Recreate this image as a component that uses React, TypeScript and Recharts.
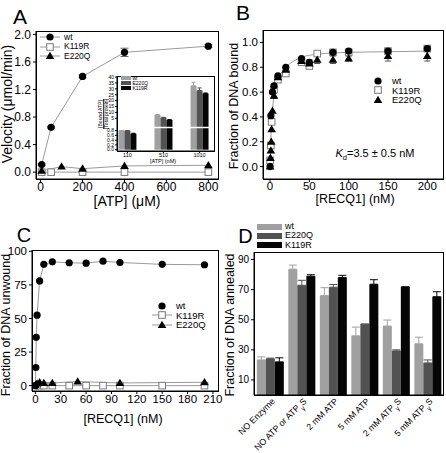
import React from 'react';
import {
  ComposedChart,
  BarChart,
  Bar,
  Line,
  Scatter,
  XAxis,
  YAxis,
  ErrorBar,
  ReferenceLine,
} from 'recharts';

const FONT = '"Liberation Sans", Arial, Helvetica, sans-serif';
const LINE_GRAY = '#9a9a9a';
const WT_BAR = '#a0a0a0';
const E220Q_BAR = '#525252';
const K119R_BAR = '#050505';

// ---- Panel A: ATPase velocity vs [ATP] (uM)
const aWtX = [5, 50, 200, 400, 800];
const aWtY = [0.11, 0.65, 1.39, 1.74, 1.83];
const aWtErr = [0.01, 0.01, 0.02, 0.06, 0.02];
const aK119RX = [5, 50, 200, 400, 800];
const aK119RY = [0.0, 0.0, 0.0, 0.0, 0.0];
const aE220QX = [5, 100, 200, 400, 800];
const aE220QY = [0.02, 0.08, 0.05, 0.09, 0.1];
const aXTicks = [0, 200, 400, 600, 800];
const aYTicks = [0, 0.4, 0.8, 1.2, 1.6, 2.0];

// ---- Panel A inset: bound ATP / total protein (broken y axis)
const insetCats = ['110', '510', '1010'];
const insetWt = [0.83, 7.9, 32.6];
const insetE220Q = [0.8, 5.6, 28.6];
const insetK119R = [0.67, 4.45, 26.1];
const insetWtErr = [0.02, 0.3, 3];
const insetE220QErr = [0.02, 0.2, 2.2];
const insetK119RErr = [0.02, 0.1, 0.4];
const insetLowTicks = [0, 0.2, 0.4, 0.6, 0.8];
const insetHighTicks = [5, 10, 15, 20, 25, 30, 35, 40];
const INSET_BREAK = 1.9;

// ---- Panel B: DNA binding
const bWtX = [0, 1, 3, 5, 10, 20, 40, 50, 80, 100, 150, 200];
const bWtY = [0.0, 0.41, 0.6, 0.65, 0.73, 0.8, 0.87, 0.84, 0.92, 0.93, 0.93, 0.95];
const bK119RX = [0, 1, 2, 5, 10, 20, 40, 50, 60, 80, 100, 150, 200];
const bK119RY = [0.05, 0.17, 0.36, 0.62, 0.7, 0.75, 0.84, 0.81, 0.91, 0.92, 0.92, 0.93, 0.95];
const bE220QX = [0, 0.5, 1, 1.5, 2, 3, 5, 10, 20, 40, 50, 60, 80, 100, 150, 200];
const bE220QY = [0.0, 0.07, 0.13, 0.2, 0.3, 0.45, 0.57, 0.72, 0.78, 0.85, 0.83, 0.86, 0.86, 0.87, 0.89, 0.89];
const bE220QErr = [0, 0, 0, 0, 0, 0, 0.02, 0.02, 0.02, 0.03, 0.03, 0.03, 0.03, 0.02, 0.04, 0.04];
const bFitX = [0, 1, 2, 4, 6, 10, 15, 20, 30, 40, 60, 100, 150, 200];
const bFitY = [0, 0.22, 0.36, 0.52, 0.61, 0.7, 0.76, 0.8, 0.85, 0.88, 0.905, 0.92, 0.925, 0.93];
const bXTicks = [0, 50, 100, 150, 200];
const bYTicks = [0, 0.2, 0.4, 0.6, 0.8, 1.0];

// ---- Panel C: DNA unwinding (%)
const cWtX = [0, 0.5, 1, 2, 5, 10, 20, 40, 60, 80, 100, 150, 200];
const cWtY = [0, 13.5, 36, 52.5, 78, 90.3, 92.2, 91.5, 91.2, 92.7, 91.7, 90.3, 90];
const cK119RX = [0, 5, 10, 20, 40, 60, 80, 100, 150, 200];
const cK119RY = [0, 0, 0, 0, 0, 0, 0, 0, 0, 0];
const cE220QX = [0, 2, 5, 10, 20, 50, 100, 200];
const cE220QY = [0.5, 1.5, 2.5, 2, 2, 3, 2, 2.5];
const cXTicks = [0, 30, 60, 90, 120, 150, 180, 210];
const cYTicks = [0, 25, 50, 75, 100];

// ---- Panel D: DNA annealing (%)
const dCats = ['NO Enzyme', 'NO ATP or ATPγS', '2 mM ATP', '5 mM ATP', '2 mM ATPγS', '5 mM ATPγS'];
const dWt = [23.3, 83.6, 66, 39.3, 45.8, 34];
const dWtErr = [2, 2.7, 5.3, 5.8, 4, 4.4];
const dE220Q = [24, 72.9, 71.6, 47.1, 29.3, 21.3];
const dE220QErr = [0.5, 3.3, 1.8, 0, 0.7, 2];
const dK119R = [22, 78.9, 78, 73.6, 71.8, 65.3];
const dK119RErr = [2.7, 1, 1.5, 3, 0, 3.3];
const dYTicks = [0, 10, 20, 30, 40, 50, 60, 70, 80, 90];

// ----------------------------------------------------------------
const pts = (xs: number[], ys: number[], es?: number[]) =>
  xs.map((x, i) => ({ x, y: ys[i], e: es ? es[i] : 0 }));

// piecewise map for the broken inset axis (units = px above zero line)
const brk = (v: number) => {
  if (v <= 0.8) return v * 23.75;
  if (v < 5) return 19 + ((v - 0.8) / 4.2) * 12.3;
  return 31.3 + (v - 5) * 1.172;
};
const insetTickVals = [...insetLowTicks, ...insetHighTicks];
const insetTickPos = insetTickVals.map(brk);
const insetTickLabel = (p: number) => {
  const i = insetTickPos.findIndex((t) => Math.abs(t - p) < 0.01);
  if (i < 0) return '';
  const v = insetTickVals[i];
  return v < 1 ? v.toFixed(1) : String(v);
};
const errUp = (v: number, e: number) => [0, brk(v + e) - brk(v)];
const insetRows = insetCats.map((c, i) => ({
  x: i,
  wt: brk(insetWt[i]),
  e220q: brk(insetE220Q[i]),
  k119r: brk(insetK119R[i]),
  wtE: errUp(insetWt[i], insetWtErr[i]),
  e220qE: errUp(insetE220Q[i], insetE220QErr[i]),
  k119rE: errUp(insetK119R[i], insetK119RErr[i]),
}));

const dRows = dCats.map((c, i) => ({
  name: c,
  wt: dWt[i],
  e220q: dE220Q[i],
  k119r: dK119R[i],
  wtE: [0, dWtErr[i]],
  e220qE: [0, dE220QErr[i]],
  k119rE: [0, dK119RErr[i]],
}));

// markers
const Dot = (p: any) =>
  p.cx == null ? <g key={p.key} /> : <circle key={p.key} cx={p.cx} cy={p.cy} r={3.6} fill="#000" />;
const Sq = (p: any) =>
  p.cx == null ? <g key={p.key} /> : (
    <rect key={p.key} x={p.cx - 3.3} y={p.cy - 3.3} width={6.6} height={6.6} fill="#fff" stroke="#7a7a7a" strokeWidth={1} />
  );
const Tri = (p: any) =>
  p.cx == null ? <g key={p.key} /> : (
    <polygon key={p.key} points={`${p.cx},${p.cy - 4.3} ${p.cx + 4.3},${p.cy + 3} ${p.cx - 4.3},${p.cy + 3}`} fill="#000" />
  );

const Txt = ({ x, y, size, rot, children, style }: any) => (
  <div
    style={{
      position: 'absolute',
      left: x,
      top: y,
      transform: `translate(-50%, -50%)${rot ? ` rotate(${rot}deg)` : ''}`,
      whiteSpace: 'nowrap',
      fontSize: size,
      fontFamily: FONT,
      color: '#000',
      lineHeight: 1,
      ...style,
    }}
  >
    {children}
  </div>
);

// plot-area frame (Origin-style closed box)
const Box = ({ l, t, w, h }: any) => (
  <div
    style={{
      position: 'absolute', left: l - 0.5, top: t - 0.5, width: w + 1, height: h + 1,
      border: '1px solid #000', boxSizing: 'border-box', pointerEvents: 'none',
    }}
  />
);

const LegendRow = ({ x, y, marker, line, label, size }: any) => (
  <div style={{ position: 'absolute', left: x, top: y - 6, height: 12, display: 'flex', alignItems: 'center' }}>
    <svg width={20} height={12}>
      {line && <line x1={0} y1={6} x2={20} y2={6} stroke={LINE_GRAY} strokeWidth={1} />}
      {marker === 'dot' && <circle cx={10} cy={6} r={3.6} fill="#000" />}
      {marker === 'sq' && <rect x={6.7} y={2.7} width={6.6} height={6.6} fill="#fff" stroke="#7a7a7a" />}
      {marker === 'tri' && <polygon points="10,1.7 14.3,9 5.7,9" fill="#000" />}
    </svg>
    <span style={{ marginLeft: 4, fontSize: size, lineHeight: 1, fontFamily: FONT, color: '#000' }}>{label}</span>
  </div>
);

const tickStyle = (size: number) => ({ fontSize: size, fill: '#000', fontFamily: FONT });
const axisLineStyle = { stroke: '#000', strokeWidth: 1 };

function gammaLabel(s: string) {
  const k = s.indexOf('γ');
  if (k < 0) return s;
  return (
    <>
      {s.slice(0, k)}
      <tspan fontSize={7} baselineShift="sub">γ</tspan>
      <tspan>{s.slice(k + 1)}</tspan>
    </>
  );
}

const DTick = ({ x, y, payload }: any) => (
  <g transform={`translate(${x + 3},${y + 2})`}>
    <text transform="rotate(-45)" textAnchor="end" dy={4} fontSize={8.8} fontFamily={FONT} fill="#000">
      {gammaLabel(payload.value)}
    </text>
  </g>
);

function PanelA() {
  return (
    <>
      <div style={{ position: 'absolute', left: 0, top: 0 }}>
        <ComposedChart width={223} height={215} margin={{ top: 31, right: 5, bottom: 0, left: 0 }}>
          <XAxis type="number" dataKey="x" domain={[-22, 846]} ticks={aXTicks} height={36} tickSize={3} tickMargin={0}
            tick={tickStyle(12)} axisLine={axisLineStyle} tickLine={axisLineStyle} allowDataOverflow />
          <YAxis type="number" domain={[-0.1, 2.05]} ticks={aYTicks} width={36} tickSize={3}
            tickFormatter={(v: number) => v.toFixed(1)} tick={tickStyle(12)} axisLine={axisLineStyle} tickLine={axisLineStyle} allowDataOverflow />
          <Line data={pts(aK119RX, aK119RY)} dataKey="y" stroke={LINE_GRAY} strokeWidth={1} dot={Sq} isAnimationActive={false} />
          <Line data={pts(aE220QX, aE220QY)} dataKey="y" stroke={LINE_GRAY} strokeWidth={1} dot={Tri} isAnimationActive={false} />
          <Line data={pts(aWtX, aWtY, aWtErr)} dataKey="y" stroke={LINE_GRAY} strokeWidth={1} dot={Dot} isAnimationActive={false}>
            <ErrorBar dataKey="e" width={4} stroke="#666" strokeWidth={1} direction="y" />
          </Line>
        </ComposedChart>
      </div>
      <Box l={36} t={31} w={182} h={148} />
      <Txt x={20} y={16} size={21}>A</Txt>
      <Txt x={7} y={104} size={14} rot={-90}>Velocity (μmol/min)</Txt>
      <Txt x={127} y={201} size={14}>[ATP] (μM)</Txt>
      <LegendRow x={40} y={37} marker="dot" line label="wt" size={8.5} />
      <LegendRow x={40} y={46.5} marker="sq" line label="K119R" size={8.5} />
      <LegendRow x={40} y={56} marker="tri" line label="E220Q" size={8.5} />
      {/* inset */}
      <div style={{ position: 'absolute', left: 100, top: 70 }}>
        <BarChart width={120} height={100} data={insetRows} margin={{ top: 6, right: 6, bottom: 0, left: 0 }} barGap={0} barSize={6}>
          <XAxis type="number" dataKey="x" domain={[-0.29, 2.4]} ticks={[0, 1, 2]} height={19} tickSize={2} tickMargin={0}
            tickFormatter={(i: number) => insetCats[i]} tick={tickStyle(5.5)} axisLine={axisLineStyle} tickLine={axisLineStyle} allowDataOverflow />
          <YAxis type="number" domain={[-1.3, 73.4]} ticks={insetTickPos} width={17} tickSize={2} tickMargin={1} interval={0}
            tickFormatter={insetTickLabel} tick={tickStyle(5)} axisLine={axisLineStyle} tickLine={axisLineStyle} allowDataOverflow />
          <Bar dataKey="wt" fill={WT_BAR} isAnimationActive={false}>
            <ErrorBar dataKey="wtE" width={2} stroke={WT_BAR} strokeWidth={1} />
          </Bar>
          <Bar dataKey="e220q" fill={E220Q_BAR} isAnimationActive={false}>
            <ErrorBar dataKey="e220qE" width={2} stroke={E220Q_BAR} strokeWidth={1} />
          </Bar>
          <Bar dataKey="k119r" fill={K119R_BAR} isAnimationActive={false}>
            <ErrorBar dataKey="k119rE" width={2} stroke={K119R_BAR} strokeWidth={1} />
          </Bar>
          <ReferenceLine y={brk(INSET_BREAK)} stroke="#fff" strokeWidth={1.5} />
        </BarChart>
      </div>
      <Box l={117} t={76} w={97} h={75} />
      <Txt x={163} y={162} size={5.5}>[ATP] (nM)</Txt>
      <div
        style={{
          position: 'absolute', left: 104, top: 114, transform: 'translate(-50%, -50%) rotate(-90deg)',
          fontSize: 5, fontFamily: FONT, lineHeight: 1.05, textAlign: 'center', whiteSpace: 'nowrap',
        }}
      >
        <div style={{ borderBottom: '0.6px solid #000' }}>[Bound ATP]</div>
        <div>[Total protein]</div>
      </div>
      {[
        ['wt', WT_BAR, 78],
        ['E220Q', E220Q_BAR, 83],
        ['K119R', K119R_BAR, 88],
      ].map(([l, c, y]: any) => (
        <div key={l} style={{ position: 'absolute', left: 121, top: y - 2, display: 'flex', alignItems: 'center', height: 4 }}>
          <div style={{ width: 10, height: 3.5, background: c }} />
          <span style={{ marginLeft: 1.5, fontSize: 5, lineHeight: 1, fontFamily: FONT }}>{l}</span>
        </div>
      ))}
    </>
  );
}

function PanelB() {
  return (
    <>
      <div style={{ position: 'absolute', left: 223, top: 0 }}>
        <ComposedChart width={223} height={215} margin={{ top: 30, right: 3, bottom: 0, left: 0 }}>
          <XAxis type="number" dataKey="x" domain={[-9, 220]} ticks={bXTicks} height={36} tickSize={3} tickMargin={0}
            tick={tickStyle(11.5)} axisLine={axisLineStyle} tickLine={axisLineStyle} allowDataOverflow />
          <YAxis type="number" domain={[-0.1, 1.1]} ticks={bYTicks} width={40} tickSize={3}
            tickFormatter={(v: number) => v.toFixed(1)} tick={tickStyle(11.5)} axisLine={axisLineStyle} tickLine={axisLineStyle} allowDataOverflow />
          <Line data={pts(bFitX, bFitY)} dataKey="y" type="monotone" stroke={LINE_GRAY} strokeWidth={1} dot={false} isAnimationActive={false} />
          <Scatter data={pts(bK119RX, bK119RY)} dataKey="y" shape={Sq} isAnimationActive={false} />
          <Scatter data={pts(bWtX, bWtY)} dataKey="y" shape={Dot} isAnimationActive={false} />
          <Scatter data={pts(bE220QX, bE220QY, bE220QErr)} dataKey="y" shape={Tri} isAnimationActive={false}>
            <ErrorBar dataKey="e" width={3} stroke="#555" strokeWidth={1} direction="y" />
          </Scatter>
        </ComposedChart>
      </div>
      <Box l={263} t={30} w={180} h={149} />
      <Txt x={243} y={12} size={21}>B</Txt>
      <Txt x={234} y={106} size={12.5} rot={-90}>Fraction of DNA bound</Txt>
      <Txt x={355} y={199} size={12.5}>[RECQ1] (nM)</Txt>
      <LegendRow x={368} y={80.5} marker="dot" label="wt" size={9.5} />
      <LegendRow x={368} y={90.3} marker="sq" label="K119R" size={9.5} />
      <LegendRow x={368} y={100.1} marker="tri" label="E220Q" size={9.5} />
      <Txt x={375} y={155} size={11}>
        <i>K</i>
        <sub style={{ fontSize: 7.5 }}>d</sub>=3.5 ± 0.5 nM
      </Txt>
    </>
  );
}

function PanelC() {
  return (
    <>
      <div style={{ position: 'absolute', left: 0, top: 225 }}>
        <ComposedChart width={223} height={200} margin={{ top: 25, right: 5, bottom: 0, left: 0 }}>
          <XAxis type="number" dataKey="x" domain={[-4, 216]} ticks={cXTicks} height={34} tickSize={3} tickMargin={1}
            tick={tickStyle(11.5)} axisLine={axisLineStyle} tickLine={axisLineStyle} allowDataOverflow />
          <YAxis type="number" domain={[-4, 101]} ticks={cYTicks} width={32} tickSize={3}
            tick={tickStyle(11.5)} axisLine={axisLineStyle} tickLine={axisLineStyle} allowDataOverflow />
          <Line data={pts(cK119RX, cK119RY)} dataKey="y" stroke={LINE_GRAY} strokeWidth={1} dot={Sq} isAnimationActive={false} />
          <Line data={pts(cE220QX, cE220QY)} dataKey="y" stroke={LINE_GRAY} strokeWidth={1} dot={Tri} isAnimationActive={false} />
          <Line data={pts(cWtX, cWtY)} dataKey="y" stroke={LINE_GRAY} strokeWidth={1} dot={Dot} isAnimationActive={false} />
        </ComposedChart>
      </div>
      <Box l={32} t={250} w={186} h={141} />
      <Txt x={24} y={235} size={20}>C</Txt>
      <Txt x={6} y={325} size={12.5} rot={-90}>Fraction of DNA unwound</Txt>
      <Txt x={123} y={419} size={12.5}>[RECQ1] (nM)</Txt>
      <LegendRow x={152} y={305.7} marker="dot" label="wt" size={9.5} />
      <LegendRow x={152} y={315.3} marker="sq" line label="K119R" size={9.5} />
      <LegendRow x={152} y={324.9} marker="tri" line label="E220Q" size={9.5} />
    </>
  );
}

function PanelD() {
  return (
    <>
      <div style={{ position: 'absolute', left: 223, top: 225 }}>
        <BarChart width={223} height={228} data={dRows} margin={{ top: 27, right: 3, bottom: 0, left: 0 }}
          barGap={0} barCategoryGap="9%">
          <XAxis dataKey="name" height={58} tickSize={0} tick={<DTick />} interval={0} axisLine={axisLineStyle} />
          <YAxis type="number" domain={[0, 95]} ticks={dYTicks} width={31} tickSize={3}
            tick={tickStyle(10)} axisLine={axisLineStyle} tickLine={axisLineStyle} allowDataOverflow />
          <Bar dataKey="wt" fill={WT_BAR} isAnimationActive={false}>
            <ErrorBar dataKey="wtE" width={4} stroke={WT_BAR} strokeWidth={1} />
          </Bar>
          <Bar dataKey="e220q" fill={E220Q_BAR} isAnimationActive={false}>
            <ErrorBar dataKey="e220qE" width={4} stroke={E220Q_BAR} strokeWidth={1} />
          </Bar>
          <Bar dataKey="k119r" fill={K119R_BAR} isAnimationActive={false}>
            <ErrorBar dataKey="k119rE" width={4} stroke={K119R_BAR} strokeWidth={1} />
          </Bar>
        </BarChart>
      </div>
      <Box l={254} t={252} w={189} h={143} />
      <Txt x={245.5} y={236} size={20}>D</Txt>
      <Txt x={229.5} y={325} size={12.5} rot={-90}>Fraction of DNA annealed</Txt>
      {[
        ['wt', WT_BAR, 226.5],
        ['E220Q', E220Q_BAR, 235.8],
        ['K119R', K119R_BAR, 245.3],
      ].map(([l, c, y]: any) => (
        <div key={l} style={{ position: 'absolute', left: 257, top: y - 4, display: 'flex', alignItems: 'center', height: 8 }}>
          <div style={{ width: 25, height: 6, background: c }} />
          <span style={{ marginLeft: 3, fontSize: 9, lineHeight: 1, fontFamily: FONT }}>{l}</span>
        </div>
      ))}
    </>
  );
}

export default function App() {
  return (
    <div style={{ position: 'absolute', left: 0, top: 0, width: 446, height: 453, background: '#fff', overflow: 'hidden' }}>
      <PanelA />
      <PanelB />
      <PanelC />
      <PanelD />
    </div>
  );
}
